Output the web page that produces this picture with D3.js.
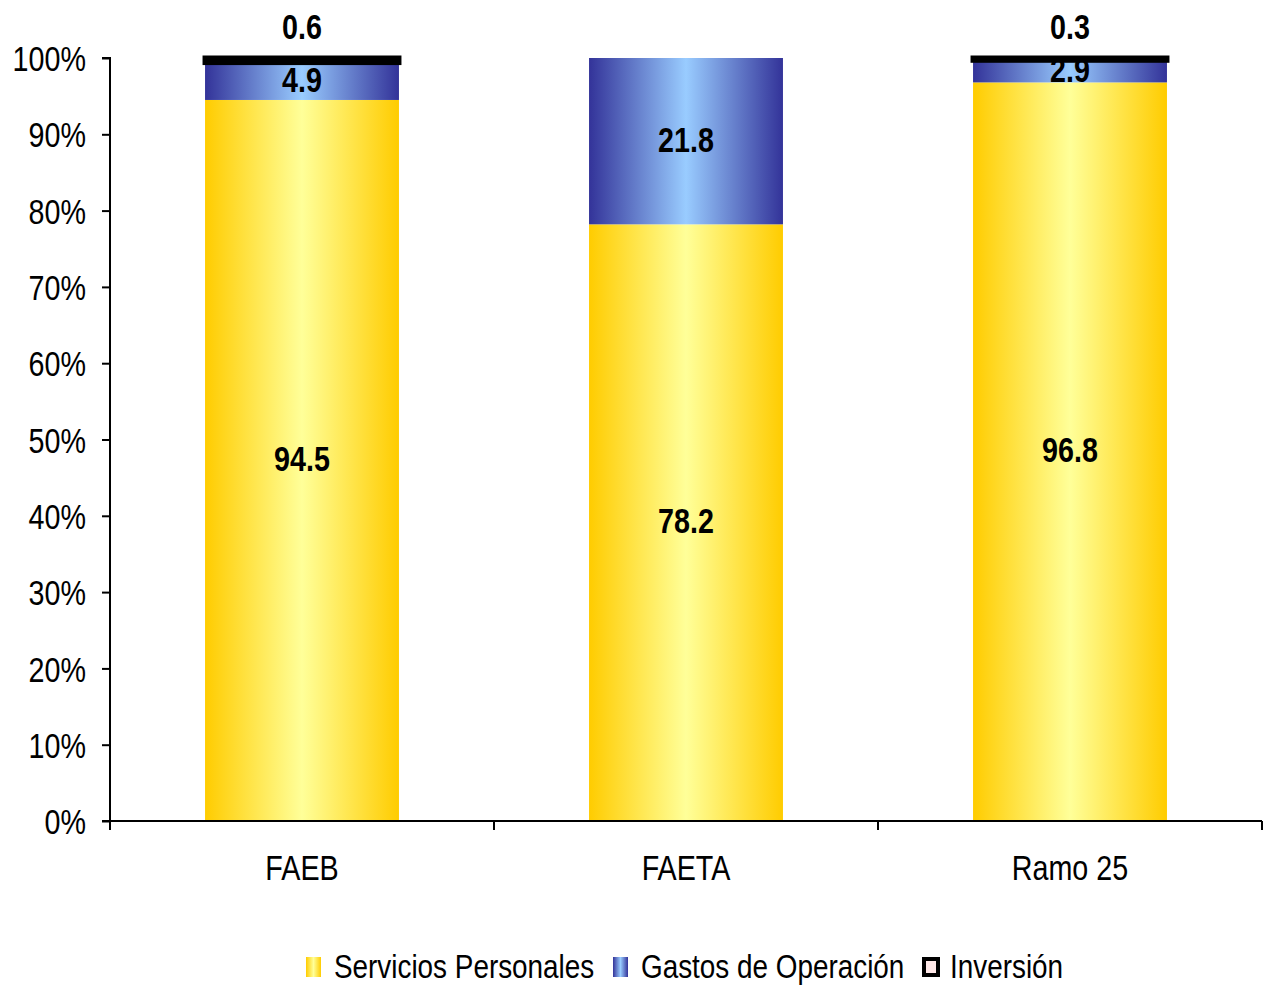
<!DOCTYPE html>
<html><head><meta charset="utf-8">
<script src="https://cdn.jsdelivr.net/npm/d3@7"></script>
<style>
html,body{margin:0;padding:0;background:#fff;}
text{font-family:"Liberation Sans",Arial,sans-serif;}
</style></head>
<body><svg id="c" width="1264" height="985"></svg>
<script>
const categories = ["FAEB", "FAETA", "Ramo 25"];
const seriesNames = ["Servicios Personales", "Gastos de Operación", "Inversión"];
const serviciosPersonales = [94.5, 78.2, 96.8];
const gastosOperacion = [4.9, 21.8, 2.9];
const inversion = [0.6, 0, 0.3];
const yTicks = [0, 10, 20, 30, 40, 50, 60, 70, 80, 90, 100];

const SX = 0.82;
function narrow(sel){
  sel.each(function(){
    const t = d3.select(this);
    const x = +t.attr("x") || 0, y = +t.attr("y") || 0;
    t.attr("x", 0).attr("y", 0).attr("transform", `translate(${x},${y}) scale(${SX},1)`);
  });
}

const svg = d3.select("#c");
const m = {l:110, r:1262, t:58, b:821};
const x = d3.scaleBand().domain(categories).range([m.l, m.r]).paddingInner(0.495).paddingOuter(0.2475);
const y = d3.scaleLinear().domain([0, 100]).range([m.b, m.t]);

const defs = svg.append("defs");
function grad(id, edge, mid){
  const g = defs.append("linearGradient").attr("id", id).attr("x1","0").attr("x2","1").attr("y1","0").attr("y2","0");
  g.append("stop").attr("offset","0").attr("stop-color", edge);
  g.append("stop").attr("offset","0.5").attr("stop-color", mid);
  g.append("stop").attr("offset","1").attr("stop-color", edge);
}
grad("gY", "#FFCC00", "#FFFF99");
grad("gB", "#333399", "#99CCFF");

const rows = categories.map((c,i)=>({cat:c, sp:serviciosPersonales[i], go:gastosOperacion[i], inv:inversion[i]}));
const stack = d3.stack().keys(["sp","go","inv"])(rows);
const fills = ["url(#gY)", "url(#gB)", "#FFE8E8"];

stack.forEach((layer, li) => {
  const g = svg.append("g");
  layer.forEach(d => {
    const v = d[1]-d[0];
    if (v <= 0) return;
    const r = g.append("rect")
      .attr("x", x(d.data.cat)).attr("width", x.bandwidth())
      .attr("y", y(d[1])).attr("height", y(d[0]) - y(d[1]))
      .attr("fill", fills[li]);
    if (li === 2) r.attr("stroke", "#000").attr("stroke-width", 5);
  });
});

// axes
const yAxis = d3.axisLeft(y).tickValues(yTicks).tickFormat(d => d + "%").tickSize(8).tickPadding(16);
const ga = svg.append("g").attr("transform", `translate(${m.l},0)`).call(yAxis);
ga.select(".domain").attr("stroke", "#000").attr("stroke-width", 2).attr("d", `M-8,${m.t}H0V${m.b}`);
ga.selectAll(".tick line").attr("stroke", "#000").attr("stroke-width", 2);
ga.selectAll(".tick text").attr("font-size", 35).attr("fill", "#000")
  .attr("font-family", '"Liberation Sans",Arial,sans-serif').attr("dy", "0.36em").call(narrow);

const xb = d3.scaleLinear().domain([0, 3]).range([m.l, m.r]);
const gx = svg.append("g").attr("transform", `translate(0,${m.b})`);
gx.append("line").attr("x1", m.l - 8).attr("x2", m.r).attr("y1", 0).attr("y2", 0).attr("stroke", "#000").attr("stroke-width", 2);
gx.selectAll("line.t").data([0,1,2,3]).enter().append("line").attr("class","t")
  .attr("x1", d=>xb(d)).attr("x2", d=>xb(d)).attr("y1", 0).attr("y2", 9).attr("stroke", "#000").attr("stroke-width", 2);
gx.selectAll("text").data(categories).enter().append("text")
  .attr("x", d => x(d) + x.bandwidth()/2).attr("y", 59)
  .attr("text-anchor", "middle").attr("font-size", 35).attr("fill", "#000").text(d => d).call(narrow);

// data labels
const lab = svg.append("g").attr("font-weight", "bold").attr("font-size", 35).attr("text-anchor", "middle").attr("fill", "#000");
stack.forEach((layer, li) => {
  layer.forEach(d => {
    const v = d[1]-d[0];
    if (v <= 0) return;
    const cx = x(d.data.cat) + x.bandwidth()/2;
    let cy = li === 2 ? y(d[1]) - 32 : (y(d[0]) + y(d[1]))/2 - 2;
    lab.append("text").attr("x", cx).attr("y", cy).attr("dy", "0.36em").text(v.toFixed(1));
  });
});
narrow(lab.selectAll("text"));

// legend
const leg = svg.append("g").attr("transform", "translate(0,966)");
const legItems = [
  {name: seriesNames[0], fill: "url(#gY)", x: 306},
  {name: seriesNames[1], fill: "url(#gB)", x: 613},
  {name: seriesNames[2], fill: "#FFE8E8", x: 922}
];
legItems.forEach((it, i) => {
  const s = leg.append("rect").attr("x", it.x).attr("y", -9).attr("width", 15).attr("height", 20).attr("fill", it.fill);
  if (i === 2) s.attr("x", it.x + 2).attr("y", -7).attr("width", 14).attr("height", 16).attr("stroke", "#000").attr("stroke-width", 4);
  leg.append("text").attr("x", it.x + 28).attr("y", 0).attr("dy", "0.36em").attr("font-size", 34).attr("fill", "#000").text(it.name);
});
narrow(leg.selectAll("text"));
</script></body></html>
